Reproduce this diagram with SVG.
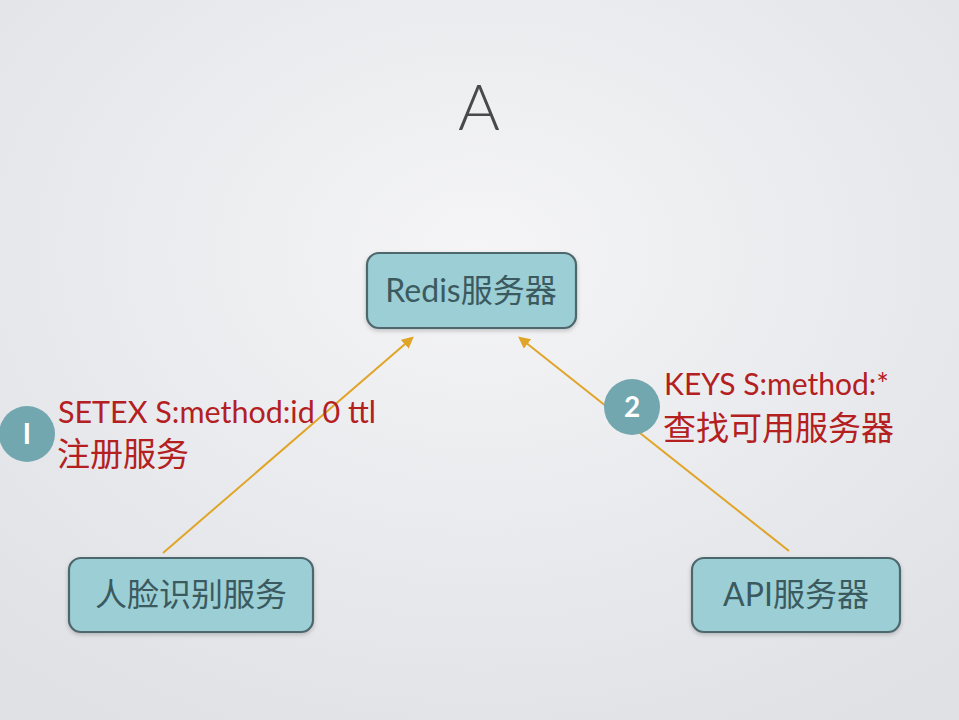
<svg xmlns="http://www.w3.org/2000/svg" width="959" height="720" viewBox="0 0 959 720">
<defs>
<radialGradient id="bg" cx="0.5" cy="0.35" r="0.75">
<stop offset="0" stop-color="#f5f5f7"/>
<stop offset="1" stop-color="#dfe1e5"/>
</radialGradient>
<marker id="arr" viewBox="0 0 10 10" refX="8" refY="5" markerWidth="6" markerHeight="6" orient="auto" markerUnits="strokeWidth">
<path d="M0,0 L10,5 L0,10 z" fill="#e0a528"/>
</marker>
<filter id="sh" x="-10%" y="-10%" width="120%" height="130%">
<feDropShadow dx="0" dy="2" stdDeviation="2" flood-color="#000" flood-opacity="0.2"/>
</filter>
</defs>
<style>
.box{fill:#9ccfd5;stroke:#4e676c;stroke-width:2.2}
.bt{font-family:Lato,"Noto Sans CJK SC",sans-serif;font-size:32px;fill:#3b5a60;text-anchor:middle}
.lbl{font-family:Lato,"Noto Sans CJK SC",sans-serif;font-size:30px;fill:#b3201f}
.lblc{font-family:"Noto Sans CJK SC",sans-serif;font-size:33px;fill:#b3201f}
.badge{fill:#72a7b0}
.bnum{font-family:Lato,sans-serif;font-size:28px;font-weight:bold;fill:#ffffff;text-anchor:middle}
.conn{stroke:#e0a528;stroke-width:2;fill:none;marker-end:url(#arr)}
</style>
<rect width="959" height="720" fill="url(#bg)"/>
<text x="479" y="130" font-family="Lato,sans-serif" font-weight="300" font-size="64" fill="#474a4d" text-anchor="middle">A</text>
<g id="connectors">
<line class="conn" x1="163" y1="553" x2="412" y2="338"/>
<line class="conn" x1="789" y1="551" x2="520" y2="338"/>
</g>
<g id="redis">
<rect class="box" x="367" y="253" width="209" height="75" rx="12" filter="url(#sh)"/>
<text class="bt" x="471" y="302">Redis服务器</text>
</g>
<g id="face">
<rect class="box" x="69" y="558" width="244" height="74" rx="12" filter="url(#sh)"/>
<text class="bt" x="191" y="606">人脸识别服务</text>
</g>
<g id="api">
<rect class="box" x="692" y="558" width="208" height="74" rx="12" filter="url(#sh)"/>
<text class="bt" x="796" y="606">API服务器</text>
</g>
<g id="label1">
<circle class="badge" cx="27" cy="434" r="28"/>
<text class="bnum" x="27" y="444">I</text>
<text class="lbl" x="58" y="423" textLength="318" lengthAdjust="spacingAndGlyphs">SETEX S:method:id 0 ttl</text>
<text class="lblc" x="57" y="466">注册服务</text>
</g>
<g id="label2">
<circle class="badge" cx="632" cy="407" r="28"/>
<text class="bnum" x="632" y="417">2</text>
<text class="lbl" x="664" y="395" textLength="225" lengthAdjust="spacingAndGlyphs">KEYS S:method:*</text>
<text class="lblc" x="663" y="440">查找可用服务器</text>
</g>
</svg>
